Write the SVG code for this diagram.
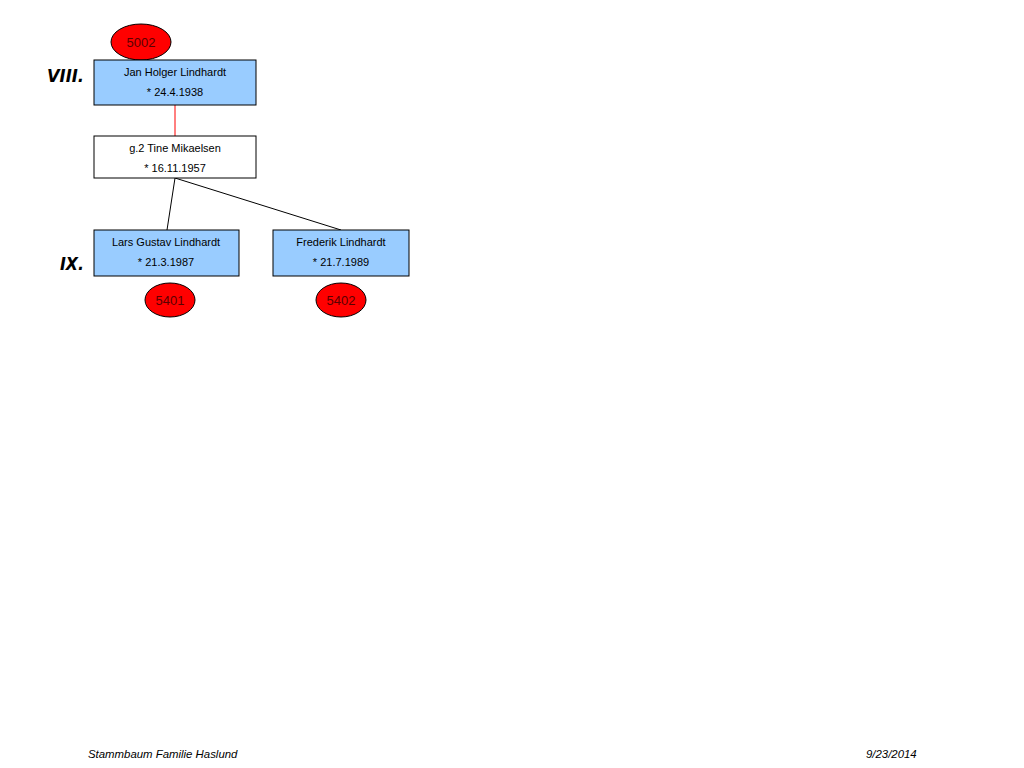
<svg xmlns="http://www.w3.org/2000/svg" width="1024" height="768" viewBox="0 0 1024 768">
<style>
.bg{fill:#ffffff}
.node{fill:#99ccff;stroke:#000;stroke-width:1}
.spouse{fill:#ffffff;stroke:#000;stroke-width:1}
.num{fill:#ff0000;stroke:#000;stroke-width:1}
.t{font-family:"Liberation Sans",Arial,sans-serif;font-size:11px;fill:#000;text-anchor:middle}
.n{font-family:"Liberation Sans",Arial,sans-serif;font-size:13px;fill:#5a0000;text-anchor:middle}
.gen{font-family:"DejaVu Sans","Liberation Sans",sans-serif;font-size:18px;font-weight:bold;font-style:italic;fill:#000}
.foot{font-family:"Liberation Sans",Arial,sans-serif;font-size:11.4px;font-style:italic;fill:#000}
.edge{stroke:#000;stroke-width:1;fill:none}
.marr{stroke:#ff0000;stroke-width:1;fill:none}
</style>
<rect class="bg" x="0" y="0" width="1024" height="768"/>
<g id="connectors">
<line class="marr" x1="175" y1="105" x2="175" y2="136"/>
<line class="edge" x1="175" y1="178" x2="167" y2="230"/>
<line class="edge" x1="175" y1="178" x2="341" y2="230"/>
</g>
<g id="gen-VIII"><text class="gen" x="47" y="82" textLength="37" lengthAdjust="spacingAndGlyphs">VIII.</text></g>
<g id="gen-IX"><text class="gen" x="60" y="270" textLength="24" lengthAdjust="spacingAndGlyphs">IX.</text></g>
<g id="n5002">
<ellipse class="num" cx="141" cy="42" rx="30" ry="18"/>
<text class="n" x="141" y="47">5002</text>
</g>
<g id="jan">
<rect class="node" x="94" y="60" width="162" height="45"/>
<text class="t" x="175" y="76">Jan Holger Lindhardt</text>
<text class="t" x="175" y="96">* 24.4.1938</text>
</g>
<g id="tine">
<rect class="spouse" x="94" y="136" width="162" height="42"/>
<text class="t" x="175" y="152">g.2 Tine Mikaelsen</text>
<text class="t" x="175" y="172">* 16.11.1957</text>
</g>
<g id="lars">
<rect class="node" x="94" y="230" width="145" height="46"/>
<text class="t" x="166" y="246">Lars Gustav Lindhardt</text>
<text class="t" x="166" y="266">* 21.3.1987</text>
</g>
<g id="frederik">
<rect class="node" x="273" y="230" width="136" height="46"/>
<text class="t" x="341" y="246">Frederik Lindhardt</text>
<text class="t" x="341" y="266">* 21.7.1989</text>
</g>
<g id="n5401">
<ellipse class="num" cx="170" cy="300" rx="25" ry="17"/>
<text class="n" x="170" y="305">5401</text>
</g>
<g id="n5402">
<ellipse class="num" cx="341" cy="300" rx="25" ry="17"/>
<text class="n" x="341" y="305">5402</text>
</g>
<g id="footer">
<text class="foot" x="88" y="758">Stammbaum Familie Haslund</text>
<text class="foot" x="866" y="758">9/23/2014</text>
</g>
</svg>
